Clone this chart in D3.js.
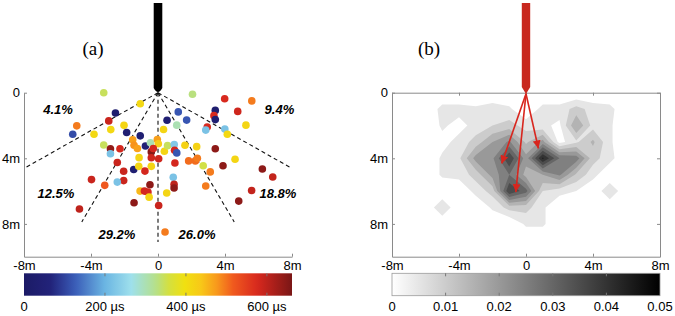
<!DOCTYPE html>
<html>
<head>
<meta charset="utf-8">
<script src="https://cdn.jsdelivr.net/npm/d3@7"></script>
<style>
body { margin: 0; background: #fff; }
text { font-family: Arial, "Liberation Sans", sans-serif; }
text.panel { font-family: "Liberation Serif", "Times New Roman", serif; }
</style>
</head>
<body>
<div id="chart"></div>
<script>
// ---- data ----
var axisTicksX = [-8, -4, 0, 4, 8];
var axisTicksY = [0, 4, 8];

// (a) arrival positions (m) and arrival time (µs)
var ptX = [-3.24, 2.06, 3.98, 5.60, -1.06, -2.54, 3.42, 4.76, 3.34, 3.42, 1.21, 1.71, 0.54, 1.12, 0.33, -2.94, -4.85, -5.09, -3.82, -2.82,
  -2.03, -1.87, -1.06, 2.94, 2.85, 3.99, 4.14, 5.25, -3.24, -2.84, -2.84, -2.27, -1.51, -1.43, -1.23, -0.75, -0.45, -0.04, 0.02, 0.38,
  0.57, 0.97, 0.99, 1.61, 2.31, 3.42, 4.60, 3.88, -0.40, -0.40, 0.04, -1.13, -2.43, 1.12, 1.01, 1.83, 2.23, 2.35, 2.70, 3.12,
  -1.45, -1.15, -0.40, -0.78, -2.05, 0.91, -3.97, -2.05, -2.43, -3.18, -0.48, 0.96, 0.96, -1.07, -0.81, -0.60, -0.53, 0.52, -1.43, 0.04,
  -4.69, 0.42, 2.85, 5.59, 4.82, 6.23, 6.85, -0.28];
var ptY = [0.00, 0.09, 0.37, 0.50, 0.67, 1.24, 1.08, 1.14, 1.40, 1.64, 1.17, 1.67, 1.68, 1.98, 2.24, 1.72, 2.02, 2.53, 2.53, 2.25,
  1.99, 2.43, 2.63, 2.09, 2.28, 2.22, 2.53, 1.98, 3.19, 3.42, 3.72, 3.42, 2.87, 3.20, 3.40, 3.25, 3.05, 2.85, 3.11, 3.57,
  3.23, 3.16, 3.51, 3.20, 3.29, 3.42, 4.06, 4.45, 3.61, 3.97, 4.03, 3.96, 4.26, 3.67, 4.29, 4.16, 4.16, 4.00, 4.45, 4.83,
  4.68, 4.49, 4.49, 4.78, 4.79, 5.16, 5.30, 5.36, 5.45, 5.65, 5.61, 5.59, 5.81, 6.00, 6.00, 6.06, 6.37, 6.12, 6.71, 6.88,
  7.09, 8.49, 5.69, 5.96, 6.61, 4.65, 5.14, 3.40];
var ptT = [345, 330, 575, 495, 410, 30, 30, 585, 575, 40, 120, 120, 40, 300, 415, 590, 495, 110, 410, 410,
  415, 40, 40, 575, 220, 220, 410, 415, 345, 640, 220, 580, 470, 480, 470, 50, 300, 470, 430, 415,
  345, 230, 580, 420, 420, 645, 415, 645, 650, 585, 585, 415, 590, 120, 580, 505, 505, 495, 355, 495,
  40, 415, 415, 580, 590, 220, 590, 590, 220, 520, 645, 600, 645, 450, 580, 580, 415, 415, 645, 590,
  600, 495, 495, 595, 645, 645, 595, 580];

// sector boundaries (deg from vertical) and share of events per sector
var rayAngles = [-60, -30, 0, 30, 60];
var rayLength = 9.1;
var sectorShare = ["4.1%", "12.5%", "29.2%", "26.0%", "18.8%", "9.4%"];
var sectorLabelX = [-5.97, -6.09, -2.45, 2.33, 7.16, 7.25];
var sectorLabelY = [1.0, 6.14, 8.65, 8.65, 6.14, 1.0];

// (b) density grid, x = -8..8, y = 0..10 (1 m), values x 0.001
var gridX0 = -8, gridY0 = 0, gridCols = 17, gridRows = 11;
var density = [
  [0, 0, 0, 0, 0, 0, 0, 0, 0, 0, 0, 0, 0, 0, 0, 0, 0],
  [0, 0, 0, 7, 7, 6, 8, 6, 0, 7, 7, 12, 8, 7, 0, 0, 0],
  [0, 0, 0, 6, 3, 7, 10, 12, 8, 6, 4, 20, 8, 6, 0, 0, 0],
  [0, 0, 0, 3, 7, 12, 20, 26, 14, 22, 3, 9, 16, 6, 0, 0, 0],
  [0, 0, 0, 6, 9, 22, 24, 40, 22, 46, 30, 28, 12, 7, 0, 0, 0],
  [0, 0, 0, 6, 7, 12, 22, 30, 18, 20, 26, 14, 7, 0, 0, 0, 0],
  [0, 0, 0, 0, 0, 7, 12, 40, 32, 10, 7, 5, 0, 10, 0, 0, 0],
  [0, 0, 0, 10, 0, 0, 6, 12, 12, 6, 0, 0, 0, 0, 0, 0, 0],
  [0, 0, 0, 0, 0, 0, 0, 0, 6, 6, 0, 0, 0, 0, 0, 0, 0],
  [0, 0, 0, 0, 0, 0, 0, 0, 0, 0, 0, 0, 0, 0, 0, 0, 0],
  [0, 0, 0, 0, 0, 0, 0, 0, 0, 0, 0, 0, 0, 0, 0, 0, 0]
];
var densityLevels = [0.005, 0.01, 0.015, 0.02, 0.025, 0.03, 0.035, 0.04, 0.045];

// main propagation directions (arrow tips, m)
var arrowX = [-1.45, -0.61, 0.74];
var arrowY = [4.32, 6.06, 3.40];

// colorbars
var timeMax = 662;
var timeTicks = [0, 200, 400, 600];
var densMax = 0.05;
var densTicks = [0, 0.01, 0.02, 0.03, 0.04, 0.05];

// ---- drawing ----
var width = 675, height = 316;
var svg = d3.select("#chart").append("svg")
  .attr("width", width).attr("height", height);

var xL = d3.scaleLinear().domain([-8, 8]).range([24, 292]);
var xR = d3.scaleLinear().domain([-8, 8]).range([392, 660]);
var y = d3.scaleLinear().domain([0, 10]).range([92.7, 256.7]);

var jetFrac = [0, 0.1, 0.19, 0.30, 0.40, 0.49, 0.54, 0.60, 0.66, 0.72, 0.78, 0.87, 1];
var jetCols = ["#1c1a66", "#22237a", "#3a5cb8", "#6ab4e2", "#9ee0ec", "#b4e08c", "#d4e040", "#f0e010",
  "#f8c818", "#f8981c", "#f05a1e", "#d8281e", "#7a1616"];
var timeColor = d3.scaleLinear()
  .domain(jetFrac.map(function(f) { return f * timeMax; }))
  .range(jetCols);
var densColor = d3.scaleLinear().domain([0, densMax]).range(["#ffffff", "#000000"]);

function fmtM(d) { return d === 0 ? "0" : (d < 0 ? "-" : "") + Math.abs(d) + "m"; }

function styleAxis(g) {
  g.selectAll("path.domain").attr("stroke", "#8a8a8a");
  g.selectAll(".tick line").attr("stroke", "#8a8a8a");
  g.selectAll(".tick text").attr("fill", "#000").attr("font-size", 13);
}

// ===== panel (a) =====
var gA = svg.append("g");

gA.append("g").attr("transform", "translate(0," + y(10) + ")")
  .call(d3.axisBottom(xL).tickValues(axisTicksX).tickFormat(fmtM)
    .tickSizeInner(-3).tickSizeOuter(0).tickPadding(4))
  .call(styleAxis);
gA.append("g").attr("transform", "translate(" + xL(-8) + ",0)")
  .call(d3.axisLeft(y).tickValues(axisTicksY).tickFormat(fmtM)
    .tickSizeInner(-3).tickSizeOuter(0).tickPadding(4))
  .call(styleAxis);

// dashed sector lines
gA.selectAll("line.ray").data(rayAngles).enter().append("line")
  .attr("class", "ray")
  .attr("x1", xL(0)).attr("y1", y(0))
  .attr("x2", function(a) { return xL(rayLength * Math.sin(a * Math.PI / 180)); })
  .attr("y2", function(a) { return y(rayLength * Math.cos(a * Math.PI / 180)); })
  .attr("stroke", "#111").attr("stroke-width", 1.1)
  .attr("stroke-dasharray", "4,3");

// events
gA.selectAll("circle.ev").data(ptX).enter().append("circle")
  .attr("class", "ev")
  .attr("cx", function(d) { return xL(d); })
  .attr("cy", function(d, i) { return y(ptY[i]); })
  .attr("r", 3.8)
  .attr("fill", function(d, i) { return timeColor(ptT[i]); });

// borehole
var bx = xL(0);
gA.append("path")
  .attr("d", "M" + (bx - 4.3) + ",3 V88 Q" + bx + ",96 " + (bx + 4.3) + ",88 V3 Z")
  .attr("fill", "#000");

// percentages
gA.selectAll("text.pct").data(sectorShare).enter().append("text")
  .attr("class", "pct")
  .attr("x", function(d, i) { return xL(sectorLabelX[i]); })
  .attr("y", function(d, i) { return y(sectorLabelY[i]); })
  .attr("dy", "0.35em")
  .attr("text-anchor", "middle")
  .attr("font-size", 13).attr("font-weight", "bold").attr("font-style", "italic")
  .text(function(d) { return d; });

gA.append("text").attr("class", "panel").attr("x", 93).attr("y", 55)
  .attr("text-anchor", "middle")
  .attr("font-size", 19).text("(a)");

// colorbar (a)
var defs = svg.append("defs");
var gradA = defs.append("linearGradient").attr("id", "gradA");
d3.range(0, 1.0001, 0.02).forEach(function(f) {
  gradA.append("stop").attr("offset", f).attr("stop-color", timeColor(f * timeMax));
});
var cbA = d3.scaleLinear().domain([0, timeMax]).range([24, 292]);
var cbTop = 273.3, cbH = 22.4;
gA.append("rect").attr("x", 24).attr("y", cbTop).attr("width", 268).attr("height", cbH)
  .attr("fill", "url(#gradA)");
timeTicks.slice(1).forEach(function(d) {
  gA.append("line").attr("x1", cbA(d)).attr("x2", cbA(d)).attr("y1", cbTop).attr("y2", cbTop + 3)
    .attr("stroke", "#777");
  gA.append("line").attr("x1", cbA(d)).attr("x2", cbA(d)).attr("y1", cbTop + cbH - 3).attr("y2", cbTop + cbH)
    .attr("stroke", "#777");
});
gA.selectAll("text.cbl").data(timeTicks).enter().append("text")
  .attr("x", function(d) { return cbA(d); }).attr("y", 310.5)
  .attr("text-anchor", "middle").attr("font-size", 13)
  .text(function(d) { return d === 0 ? "0" : d + " µs"; });

// ===== panel (b) =====
var gB = svg.append("g");
defs.append("clipPath").attr("id", "clipB").append("rect")
  .attr("x", xR(-8)).attr("y", y(0)).attr("width", xR(8) - xR(-8)).attr("height", y(10) - y(0));

var flat = [];
density.forEach(function(row) { row.forEach(function(v) { flat.push(v / 1000); }); });
var contours = d3.contours().size([gridCols, gridRows]).thresholds(densityLevels)(flat);
var proj = d3.geoTransform({
  point: function(px, py) {
    this.stream.point(xR(gridX0 + px - 0.5), y(gridY0 + py - 0.5));
  }
});
gB.append("g").attr("clip-path", "url(#clipB)")
  .selectAll("path").data(contours).enter().append("path")
  .attr("d", d3.geoPath(proj))
  .attr("fill", function(d) { return densColor(d.value); })
  .attr("stroke", "none");

// box axes
gB.append("g").attr("transform", "translate(0," + y(10) + ")")
  .call(d3.axisBottom(xR).tickValues(axisTicksX).tickFormat(fmtM)
    .tickSizeInner(-3).tickSizeOuter(0).tickPadding(4))
  .call(styleAxis);
gB.append("g").attr("transform", "translate(0," + y(0) + ")")
  .call(d3.axisTop(xR).tickValues(axisTicksX).tickFormat("")
    .tickSizeInner(-3).tickSizeOuter(0))
  .call(styleAxis);
gB.append("g").attr("transform", "translate(" + xR(-8) + ",0)")
  .call(d3.axisLeft(y).tickValues(axisTicksY).tickFormat(fmtM)
    .tickSizeInner(-3).tickSizeOuter(0).tickPadding(4))
  .call(styleAxis);
gB.append("g").attr("transform", "translate(" + xR(8) + ",0)")
  .call(d3.axisRight(y).tickValues(axisTicksY).tickFormat("")
    .tickSizeInner(-3).tickSizeOuter(0))
  .call(styleAxis);

// arrows
defs.append("marker").attr("id", "head")
  .attr("viewBox", "0 0 10 10").attr("refX", 10).attr("refY", 5)
  .attr("markerWidth", 5).attr("markerHeight", 5).attr("markerUnits", "strokeWidth")
  .attr("orient", "auto")
  .append("path").attr("d", "M0,0 L10,5 L0,10 Z").attr("fill", "#d8261e");
var rx = xR(0);
gB.selectAll("line.arr").data(arrowX).enter().append("line")
  .attr("x1", rx).attr("y1", y(0) + 1)
  .attr("x2", function(d) { return xR(d); })
  .attr("y2", function(d, i) { return y(arrowY[i]); })
  .attr("stroke", "#d8261e").attr("stroke-width", 1.6)
  .attr("marker-end", "url(#head)");

// red borehole
gB.append("path")
  .attr("d", "M" + (rx - 4.2) + ",3 V87 L" + rx + ",94 L" + (rx + 4.2) + ",87 V3 Z")
  .attr("fill", "#c8281f");

gB.append("text").attr("class", "panel").attr("x", 429).attr("y", 55)
  .attr("text-anchor", "middle")
  .attr("font-size", 19).text("(b)");

// colorbar (b)
var gradB = defs.append("linearGradient").attr("id", "gradB");
gradB.append("stop").attr("offset", 0).attr("stop-color", densColor(0));
gradB.append("stop").attr("offset", 1).attr("stop-color", densColor(densMax));
var cbB = d3.scaleLinear().domain([0, densMax]).range([392, 660]);
gB.append("rect").attr("x", 392).attr("y", cbTop).attr("width", 268).attr("height", cbH)
  .attr("fill", "url(#gradB)").attr("stroke", "#9a9a9a").attr("stroke-width", 0.8);
densTicks.slice(1, -1).forEach(function(d) {
  gB.append("line").attr("x1", cbB(d)).attr("x2", cbB(d)).attr("y1", cbTop).attr("y2", cbTop + 3)
    .attr("stroke", "#777");
  gB.append("line").attr("x1", cbB(d)).attr("x2", cbB(d)).attr("y1", cbTop + cbH - 3).attr("y2", cbTop + cbH)
    .attr("stroke", "#777");
});
gB.selectAll("text.cbl").data(densTicks).enter().append("text")
  .attr("x", function(d) { return cbB(d); }).attr("y", 310.5)
  .attr("text-anchor", "middle").attr("font-size", 13)
  .text(function(d) { return d === 0 ? "0" : d3.format(".2f")(d); });
</script>
</body>
</html>
